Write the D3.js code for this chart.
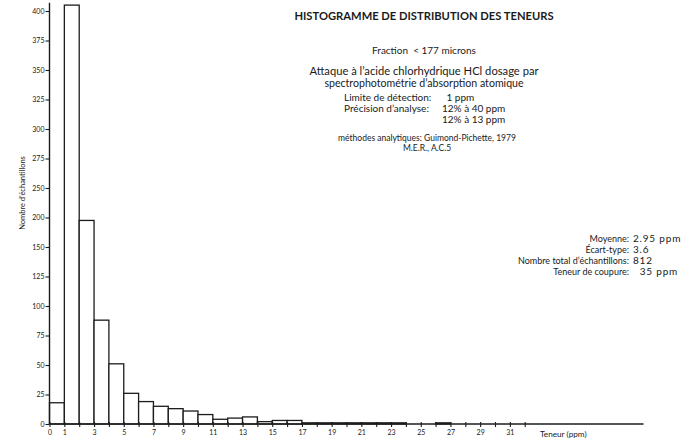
<!DOCTYPE html>
<html>
<head>
<meta charset="utf-8">
<script src="https://cdn.jsdelivr.net/npm/d3@7/dist/d3.min.js"></script>
<style>
  html, body { margin: 0; padding: 0; background: #fff; }
  svg { display: block; }
  text { font-family: Lato, "Noto Sans", sans-serif; fill: #1a1a1a; }
</style>
</head>
<body>
<svg id="chart" width="693" height="444"></svg>
<script>
// ---------- DATA ----------
// bin lower bounds (ppm), each bin is [b, b+1)
const binStarts = [0,1,2,3,4,5,6,7,8,9,10,11,12,13,14,15,16,17,18,19,20,21,22,23,24,25,26];
const binCounts = [18,405,195,88,51,26,19,15,13,11,8,4,5,6,2,3,3,1,1,1,1,1,1,1,0,0,1];
// y tick labels as printed on the original (evenly spaced)
const yTickValues = [0,25,50,75,100,125,150,200,250,275,300,325,350,375,400];
// x ticks
const xTickMarks = d3.range(0, 33);
const xTickLabels = [0,1,3,5,7,9,11,13,15,17,19,21,23,25,27,29,31];

const titleText = "HISTOGRAMME DE DISTRIBUTION DES TENEURS";
const subLines = [
  "Fraction  < 177 microns",
  "Attaque à l’acide chlorhydrique HCl dosage par",
  "spectrophotométrie d’absorption atomique"
];
const methodLabels = ["Limite de détection:", "Précision d’analyse:", ""];
const methodValues = ["1 ppm", "12% à 40 ppm", "12% à 13 ppm"];
const refLines = ["méthodes analytiques: Guimond-Pichette, 1979", "M.E.R., A.C.5"];
const statLabels = ["Moyenne:", "Écart-type:", "Nombre total d’échantillons:", "Teneur de coupure:"];
const statValues = ["2.95 ppm", "3.6", "812", "  35 ppm"];
const xAxisTitle = "Teneur (ppm)";
const yAxisTitle = "Nombre d’échantillons";

// ---------- LAYOUT ----------
const svg = d3.select("#chart");
const plotBottom = 424, plotTop = 11;
const xLeft = 49.5, xRight = 643.5;

const x = d3.scaleLinear().domain([0, 40]).range([xLeft, xRight]);
const n = yTickValues.length;
const y = d3.scaleLinear()
  .domain(yTickValues)
  .range(d3.range(n).map(i => plotBottom - i * (plotBottom - plotTop) / (n - 1)));

const ink = "#1c1c1c";

// bars
svg.append("g").selectAll("rect")
  .data(binStarts.map((b, i) => ({b, c: binCounts[i]})).filter(d => d.c > 0))
  .join("rect")
  .attr("x", d => x(d.b))
  .attr("width", d => x(d.b + 1) - x(d.b))
  .attr("y", d => y(d.c))
  .attr("height", d => y(0) - y(d.c))
  .attr("fill", "#fff")
  .attr("stroke", ink)
  .attr("stroke-width", 1.3);

// y axis
const yAxis = d3.axisLeft(y).tickValues(yTickValues).tickSize(4).tickPadding(1).tickFormat(d3.format("d"));
const gy = svg.append("g").attr("transform", `translate(${xLeft},0)`).call(yAxis);
gy.select(".domain").remove();
gy.selectAll(".tick line").attr("stroke", ink).attr("stroke-width", 1.1);
gy.selectAll(".tick text").attr("font-size", 7).attr("font-family", "Lato, sans-serif").attr("fill", ink);
gy.append("line").attr("x1", 0).attr("x2", 0).attr("y1", y(0)).attr("y2", y(407))
  .attr("stroke", ink).attr("stroke-width", 1.4);

// x axis
const xAxis = d3.axisBottom(x).tickValues(xTickMarks).tickSize(3).tickPadding(3)
  .tickFormat(d => xTickLabels.includes(d) ? d : "");
const gx = svg.append("g").attr("transform", `translate(0,${plotBottom})`).call(xAxis);
gx.select(".domain").remove();
gx.selectAll(".tick line").attr("y1", -2).attr("stroke", ink).attr("stroke-width", 1.1);
gx.selectAll(".tick text").attr("font-size", 7).attr("font-family", "Lato, sans-serif").attr("fill", ink);
gx.append("line").attr("x1", x(0)).attr("x2", x(40)).attr("y1", 0).attr("y2", 0)
  .attr("stroke", ink).attr("stroke-width", 1.4);

svg.append("text").attr("x", 540).attr("y", 437).attr("font-size", 8.2).text(xAxisTitle);

// y axis title
svg.append("text")
  .attr("transform", "translate(25,193) rotate(-90)")
  .attr("text-anchor", "middle").attr("font-size", 7.5).text(yAxisTitle);

// title block
const cx = 424;
svg.append("text").attr("x", cx).attr("y", 20).attr("text-anchor", "middle")
  .attr("font-size", 11.2).attr("font-weight", "bold").text(titleText);

const subY = [54, 75, 87];
const subSize = [10, 11.2, 10.6];
subLines.forEach((t, i) => {
  svg.append("text").attr("x", cx).attr("y", subY[i]).attr("text-anchor", "middle")
    .attr("font-size", subSize[i]).style("white-space", "pre").text(t);
});

const methY = [101, 112, 123];
methodLabels.forEach((t, i) => {
  if (t) svg.append("text").attr("x", 344).attr("y", methY[i]).attr("font-size", 10).text(t);
});
const methX = [446.5, 442, 442];
methodValues.forEach((t, i) => {
  svg.append("text").attr("x", methX[i]).attr("y", methY[i]).attr("font-size", 10).text(t);
});

const refY = [141, 151];
refLines.forEach((t, i) => {
  svg.append("text").attr("x", 427).attr("y", refY[i]).attr("text-anchor", "middle")
    .attr("font-size", 8.5).text(t);
});

// stats block
const statY = [242, 253, 264, 275];
statLabels.forEach((t, i) => {
  svg.append("text").attr("x", 629).attr("y", statY[i]).attr("text-anchor", "end")
    .attr("font-size", 9).text(t);
  svg.append("text").attr("x", 633).attr("y", statY[i])
    .attr("font-size", 10).attr("letter-spacing", 0.8).style("white-space", "pre").text(statValues[i]);
});
</script>
</body>
</html>
